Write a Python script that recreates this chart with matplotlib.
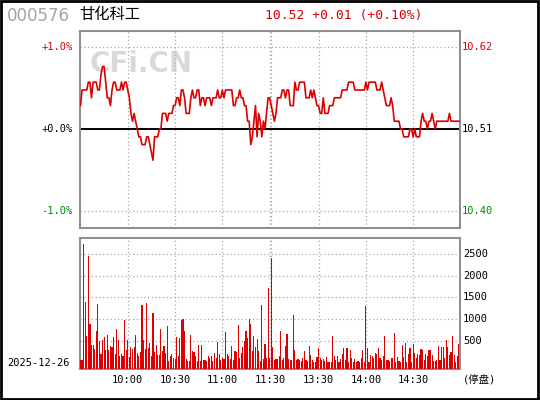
import numpy as np
import matplotlib.pyplot as plt
from matplotlib.patches import Rectangle

plt.rcParams['font.family'] = ['DejaVu Sans Mono', 'Noto Sans CJK SC']

code = "000576"
name = "甘化科工"
quote = "10.52 +0.01 (+0.10%)"
trade_date = "2025-12-26"
status = "(停盘)"
base_price = 10.51

# 分时价格, 相对昨收的分 (0.01元) 偏移, 9:30 ~ 15:00 共241点
price_cents = [
    3, 5, 5, 5, 5, 6, 6, 4, 6, 6, 6, 5, 5, 7, 8, 8, 6, 4, 4, 3,
    5, 6, 6, 5, 5, 5, 6, 5, 6, 6, 5, 4, 2, 1, 2, 1, 0, -1, -1, -2,
    -2, -2, -1, -1, -2, -3, -4, -1, -1, -1, 0, 0, 2, 2, 2, 1, 2, 2, 2, 3,
    3, 4, 4, 3, 5, 5, 4, 2, 2, 2, 4, 5, 4, 4, 5, 5, 3, 4, 4, 3,
    4, 4, 4, 3, 4, 4, 4, 5, 4, 4, 5, 4, 5, 5, 5, 5, 5, 3, 3, 4,
    4, 5, 4, 4, 3, 3, 1, 1, -2, -1, 1, 3, -1, 2, 1, -1, 1, 0, 2, 4,
    4, 3, 2, 1, 2, 4, 4, 4, 5, 5, 4, 5, 5, 3, 3, 3, 6, 5, 5, 6,
    6, 6, 6, 4, 4, 4, 5, 4, 5, 4, 3, 3, 2, 2, 4, 2, 2, 2, 3, 3,
    3, 4, 4, 4, 4, 4, 5, 5, 5, 5, 6, 6, 6, 6, 5, 5, 5, 5, 5, 5,
    5, 6, 5, 6, 6, 6, 6, 6, 5, 5, 5, 6, 5, 4, 3, 3, 3, 4, 3, 1,
    1, 1, 1, 0, 0, -1, -1, -1, -1, 0, 0, -1, 0, -1, -1, -1, 1, 2, 1, 1,
    0, 1, 1, 2, 1, 0, 1, 1, 1, 1, 1, 1, 1, 1, 2, 1, 1, 1, 1, 1,
    1,
]

# 每分钟成交量 (手)
volume = [
    60, 60, 2730, 1397, 616, 2454, 891, 408, 408, 316, 730, 1350, 500, 200, 523, 600, 294, 637, 294, 385,
    370, 600, 200, 776, 523, 156, 200, 156, 983, 294, 523, 140, 370, 316, 370, 637, 217, 156, 255, 1327,
    523, 316, 1380, 347, 447, 163, 1150, 240, 408, 179, 179, 776, 278, 385, 232, 845, 40, 163, 200, 102,
    87, 585, 163, 560, 983, 1000, 730, 94, 40, 40, 637, 270, 255, 156, 40, 408, 40, 408, 55, 55,
    40, 156, 102, 156, 40, 217, 117, 485, 200, 55, 102, 87, 715, 200, 156, 87, 393, 55, 278, 255,
    868, 117, 232, 370, 500, 730, 577, 1000, 891, 278, 616, 370, 545, 270, 40, 1327, 87, 431, 100, 1720,
    117, 2408, 370, 62, 85, 85, 155, 730, 62, 100, 385, 662, 77, 62, 62, 1100, 293, 62, 85, 62,
    40, 100, 270, 62, 40, 385, 178, 62, 24, 24, 139, 331, 100, 62, 77, 47, 139, 24, 16, 24,
    616, 155, 60, 155, 24, 85, 200, 331, 62, 331, 24, 293, 100, 24, 85, 24, 40, 24, 100, 293,
    24, 1293, 331, 24, 178, 155, 100, 231, 193, 331, 100, 62, 155, 616, 62, 62, 47, 100, 100, 677,
    24, 139, 47, 24, 408, 139, 447, 16, 200, 331, 24, 431, 231, 100, 200, 178, 308, 293, 62, 200,
    155, 293, 293, 178, 47, 40, 62, 385, 62, 354, 354, 116, 524, 354, 178, 254, 616, 185, 24, 155,
    431,
]

time_ticks = [30, 60, 90, 120, 151, 181, 211]
time_labels = ["10:00", "10:30", "11:00", "11:30", "13:30", "14:00", "14:30"]
grid_minutes = [30, 60, 90, 120, 121, 151, 181, 211]
pct_ticks = [1.0, 0.0, -1.0]
vol_ticks = [500, 1000, 1500, 2000, 2500]

RED = '#dd0000'
GREEN = '#008800'
GRID = '#a8a8a8'
SPINE = '#909090'

minutes = np.arange(len(price_cents))
pct = np.array(price_cents) / 100 / base_price * 100

fig = plt.figure(figsize=(5.4, 4.0), dpi=100, facecolor='white')

# 价格区
ax = fig.add_axes([80 / 540, 1 - 228 / 400, 380 / 540, 197 / 400])
ax.set_xlim(-0.3, 240.7)
ax.set_ylim(-1.207, 1.195)
for m in grid_minutes:
    ax.axvline(m, color=GRID, lw=0.9, ls=(0, (1, 2)), zorder=1)
for p in pct_ticks:
    if p == 0:
        ax.axhline(0, color='black', lw=1.4, zorder=2)
    else:
        ax.axhline(p, color=GRID, lw=0.9, ls=(0, (1, 2)), zorder=1)
# 水印
ax.text(0.026, 0.83, "CFi.CN", transform=ax.transAxes, fontsize=20, fontweight='bold',
        family='DejaVu Sans', color='#d9d9d9', va='center', ha='left', zorder=0)
ax.plot(minutes, pct, color=RED, lw=1.2, zorder=3)
ax.set_xticks([])
ax.set_yticks([])
for s in ax.spines.values():
    s.set_color(SPINE)
    s.set_linewidth(1.5)

for p in pct_ticks:
    c = RED if p > 0 else (GREEN if p < 0 else 'black')
    ax.text(-0.02, p, f"{p:+.1f}%", transform=ax.get_yaxis_transform(),
            ha='right', va='center', fontsize=7.5, color=c)
    ax.text(1.005, p, f"{base_price * (1 + p / 100):.2f}", transform=ax.get_yaxis_transform(),
            ha='left', va='center', fontsize=7.5, color=c)

# 成交量区
vax = fig.add_axes([80 / 540, 1 - 369.3 / 400, 380 / 540, 131 / 400])
vbase = -150
vax.set_xlim(-0.3, 240.7)
vax.set_ylim(vbase, 2860)
for m in grid_minutes:
    vax.axvline(m, color=GRID, lw=0.9, ls=(0, (1, 2)), zorder=1)
for v in vol_ticks:
    vax.axhline(v, color=GRID, lw=0.9, ls=(0, (1, 2)), zorder=1)
    vax.text(1.008, v, str(v), transform=vax.get_yaxis_transform(),
             ha='left', va='center', fontsize=7.5, color='black')
vol = np.array(volume)
vax.bar(np.arange(len(vol)), vol - vbase, bottom=vbase, width=0.72,
        color=RED, linewidth=0, antialiased=False, zorder=3)
vax.set_xticks([])
vax.set_yticks([])
for s in vax.spines.values():
    s.set_color(SPINE)
    s.set_linewidth(1.5)

for m, lab in zip(time_ticks, time_labels):
    x = m + 0.5 if lab == "11:30" else m
    vax.text(x, -0.085, lab, transform=vax.get_xaxis_transform(),
             ha='center', va='center', fontsize=7.5, color='black')
vax.text(1.008, -0.085, status, transform=vax.transAxes, ha='left', va='center',
         fontsize=7.5, color='black')
fig.text(7 / 540, 1 - 363 / 400, trade_date, ha='left', va='center', fontsize=7.5)

# 标题
fig.text(7 / 540, 1 - 16 / 400, code, ha='left', va='center', fontsize=12,
         family='DejaVu Sans', color='#a0a4aa')
fig.text(79 / 540, 1 - 15 / 400, name, ha='left', va='center', fontsize=11,
         family='Noto Sans CJK SC', color='black')
fig.text(265 / 540, 1 - 15 / 400, quote, ha='left', va='center', fontsize=9.4, color=RED)

fig.patches.append(Rectangle((0.001, 0.002), 0.996, 0.995, transform=fig.transFigure,
                             fill=False, edgecolor='black', lw=2))

fig.savefig("out.png", dpi=100, facecolor='white')
